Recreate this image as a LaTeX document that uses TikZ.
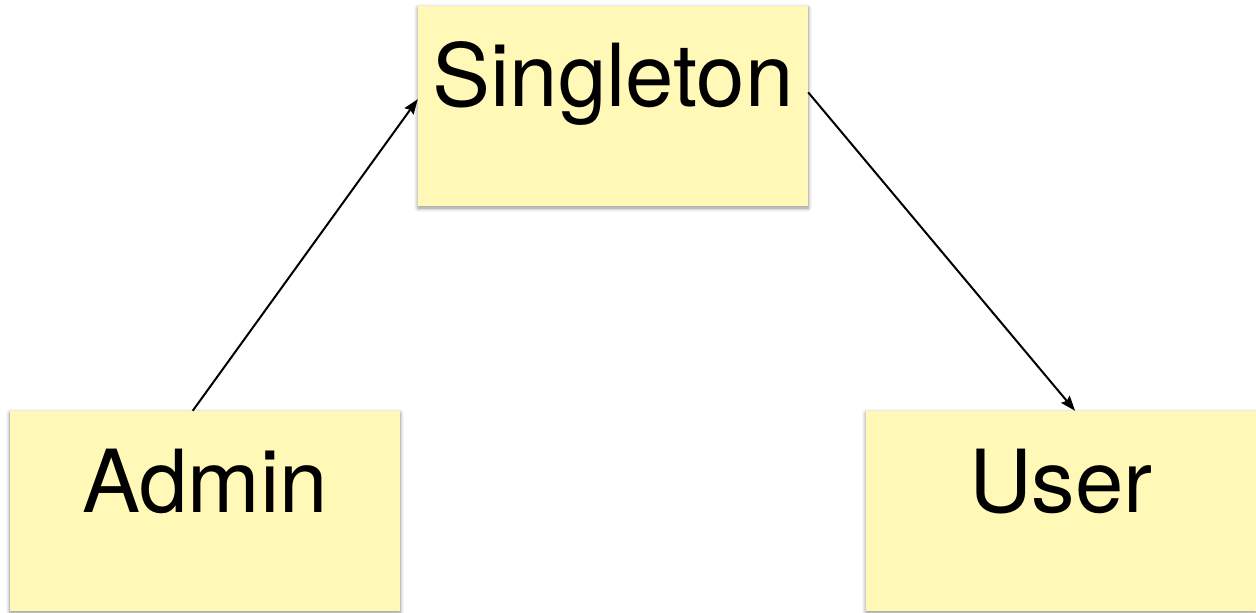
\documentclass[tikz,border=0pt]{standalone}
\usepackage{fontspec}
\setmainfont{TeX Gyre Heros}
\usepackage{xcolor}
\definecolor{Sticky}{HTML}{FFF8B6}
\definecolor{Ink}{HTML}{000000}
\usepackage{tikz}
\usetikzlibrary{arrows.meta,shadows.blur}
\tikzset{
  card/.style={rectangle,fill=Sticky,minimum width=390bp,minimum height=200bp,
    inner sep=0pt,text height=101bp,text depth=99bp,
    font=\fontsize{87bp}{100bp}\selectfont,
    blur shadow={shadow xshift=0bp,shadow yshift=-2bp,shadow blur radius=4bp,
      shadow blur steps=6,shadow opacity=45}},
  arrowline/.style={draw=Ink,line width=2bp,-{Stealth[length=15bp,width=11bp,inset=2bp]}}
}
\begin{document}
\begin{tikzpicture}[x=1bp,y=-1bp]
  \useasboundingbox (0,0) rectangle (1256,613);
  \node[card] (singleton) at (613,106) {Singleton};
  \node[card] (admin) at (205,511) {Admin};
  \node[card] (user) at (1061,511) {User};
  \draw[arrowline] (admin.97) -- (singleton.178);
  \draw[arrowline] (singleton.4) -- (user.82);
\end{tikzpicture}
\end{document}
